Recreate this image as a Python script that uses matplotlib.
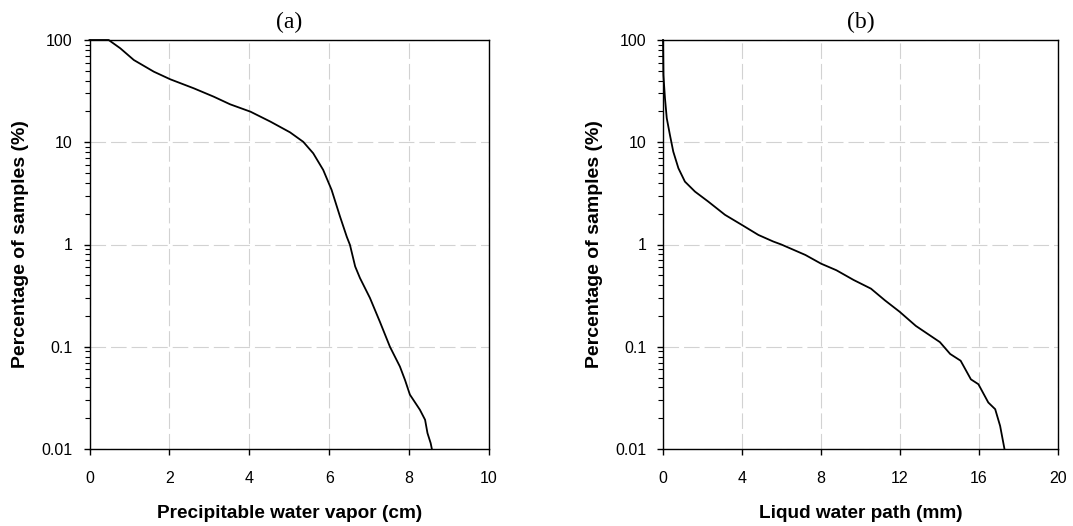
import numpy as np
import matplotlib
matplotlib.use("Agg")
from matplotlib import pyplot as plt
from matplotlib.ticker import LogLocator, NullFormatter, FixedLocator, FixedFormatter

# (a) precipitable water vapor (cm) vs percentage of samples (%)
pwv_x = [0.0, 0.48, 0.77, 1.11, 1.61, 2.02, 2.61, 3.11, 3.52, 4.03, 4.53, 5.02, 5.35, 5.6,
         5.85, 6.06, 6.27, 6.44, 6.52, 6.65, 6.77, 7.02, 7.27, 7.52, 7.77, 7.9, 8.02, 8.27,
         8.4, 8.46, 8.54, 8.57]
pwv_y = [100, 100, 83, 63.7, 49, 41.3, 33.7, 27.9, 23.5, 19.9, 15.9, 12.5, 10.1, 7.8,
         5.36, 3.42, 1.88, 1.19, 0.99, 0.61, 0.47, 0.30, 0.175, 0.1, 0.064, 0.047, 0.034, 0.0242,
         0.0193, 0.0143, 0.0114, 0.01]

# (b) liquid water path (mm) vs percentage of samples (%)
lwp_x = [0.0, 0.02, 0.1, 0.19, 0.35, 0.52, 0.78, 1.11, 1.62, 2.29, 3.14, 3.98, 4.83, 5.58,
         5.99, 7.21, 8.0, 8.78, 9.65, 10.53, 11.23, 11.98, 12.8, 14.02, 14.54, 15.07, 15.59,
         15.97, 16.47, 16.82, 17.07, 17.29]
lwp_y = [100, 45.5, 26.9, 17.2, 11.8, 8.1, 5.57, 4.12, 3.29, 2.63, 1.95, 1.56, 1.24, 1.07,
         1.0, 0.79, 0.65, 0.56, 0.45, 0.37, 0.285, 0.22, 0.16, 0.111, 0.085, 0.073, 0.048,
         0.043, 0.0285, 0.0245, 0.0168, 0.01]

y_ticks = [0.01, 0.1, 1, 10, 100]
y_labels = ["0.01", "0.1", "1", "10", "100"]

panels = [
    dict(x=pwv_x, y=pwv_y, xlim=(0, 10), xticks=[0, 2, 4, 6, 8, 10],
         xlabel="Precipitable water vapor (cm)", title="(a)",
         rect=[89.5 / 1073, 1 - 449 / 526, 399.5 / 1073, 409 / 526]),
    dict(x=lwp_x, y=lwp_y, xlim=(0, 20), xticks=[0, 4, 8, 12, 16, 20],
         xlabel="Liqud water path (mm)", title="(b)",
         rect=[663 / 1073, 1 - 449 / 526, 395 / 1073, 409 / 526]),
]

plt.rcParams['font.family'] = ['Liberation Sans', 'DejaVu Sans']

fig = plt.figure(figsize=(10.73, 5.26), dpi=100)

for p in panels:
    ax = fig.add_axes(p['rect'])
    ax.plot(p['x'], p['y'], color='black', lw=1.3, zorder=3, clip_on=False,
            solid_joinstyle='round')
    ax.set_yscale('log')
    ax.set_xlim(*p['xlim'])
    ax.set_ylim(0.01, 100)

    ax.yaxis.set_major_locator(FixedLocator(y_ticks))
    ax.yaxis.set_major_formatter(FixedFormatter(y_labels))
    ax.yaxis.set_minor_locator(LogLocator(base=10, subs=np.arange(2, 10), numticks=20))
    ax.yaxis.set_minor_formatter(NullFormatter())
    ax.set_xticks(p['xticks'])
    ax.set_xticklabels([str(t) for t in p['xticks']])

    ax.tick_params(axis='both', which='major', direction='out', length=4.5, width=1,
                   labelsize=11.5, top=False, right=False)
    ax.tick_params(axis='x', which='major', pad=11)
    ax.tick_params(axis='y', which='major', pad=7.5)
    ax.tick_params(axis='y', which='minor', direction='out', length=3.3, width=0.8)

    ax.grid(True, which='major', color='#d2d2d2', lw=0.8, linestyle=(0, (14, 4.5)), zorder=0)
    for s in ax.spines.values():
        s.set_linewidth(1.0)

    ax.set_xlabel(p['xlabel'], fontsize=13.7, fontweight='bold', labelpad=14)
    ax.set_ylabel("Percentage of samples (%)", fontsize=14, fontweight='bold', labelpad=9)
    ax.set_title(p['title'], fontsize=17, family=['Liberation Serif', 'DejaVu Serif'], pad=8.5)

fig.savefig("out.png", dpi=100)
